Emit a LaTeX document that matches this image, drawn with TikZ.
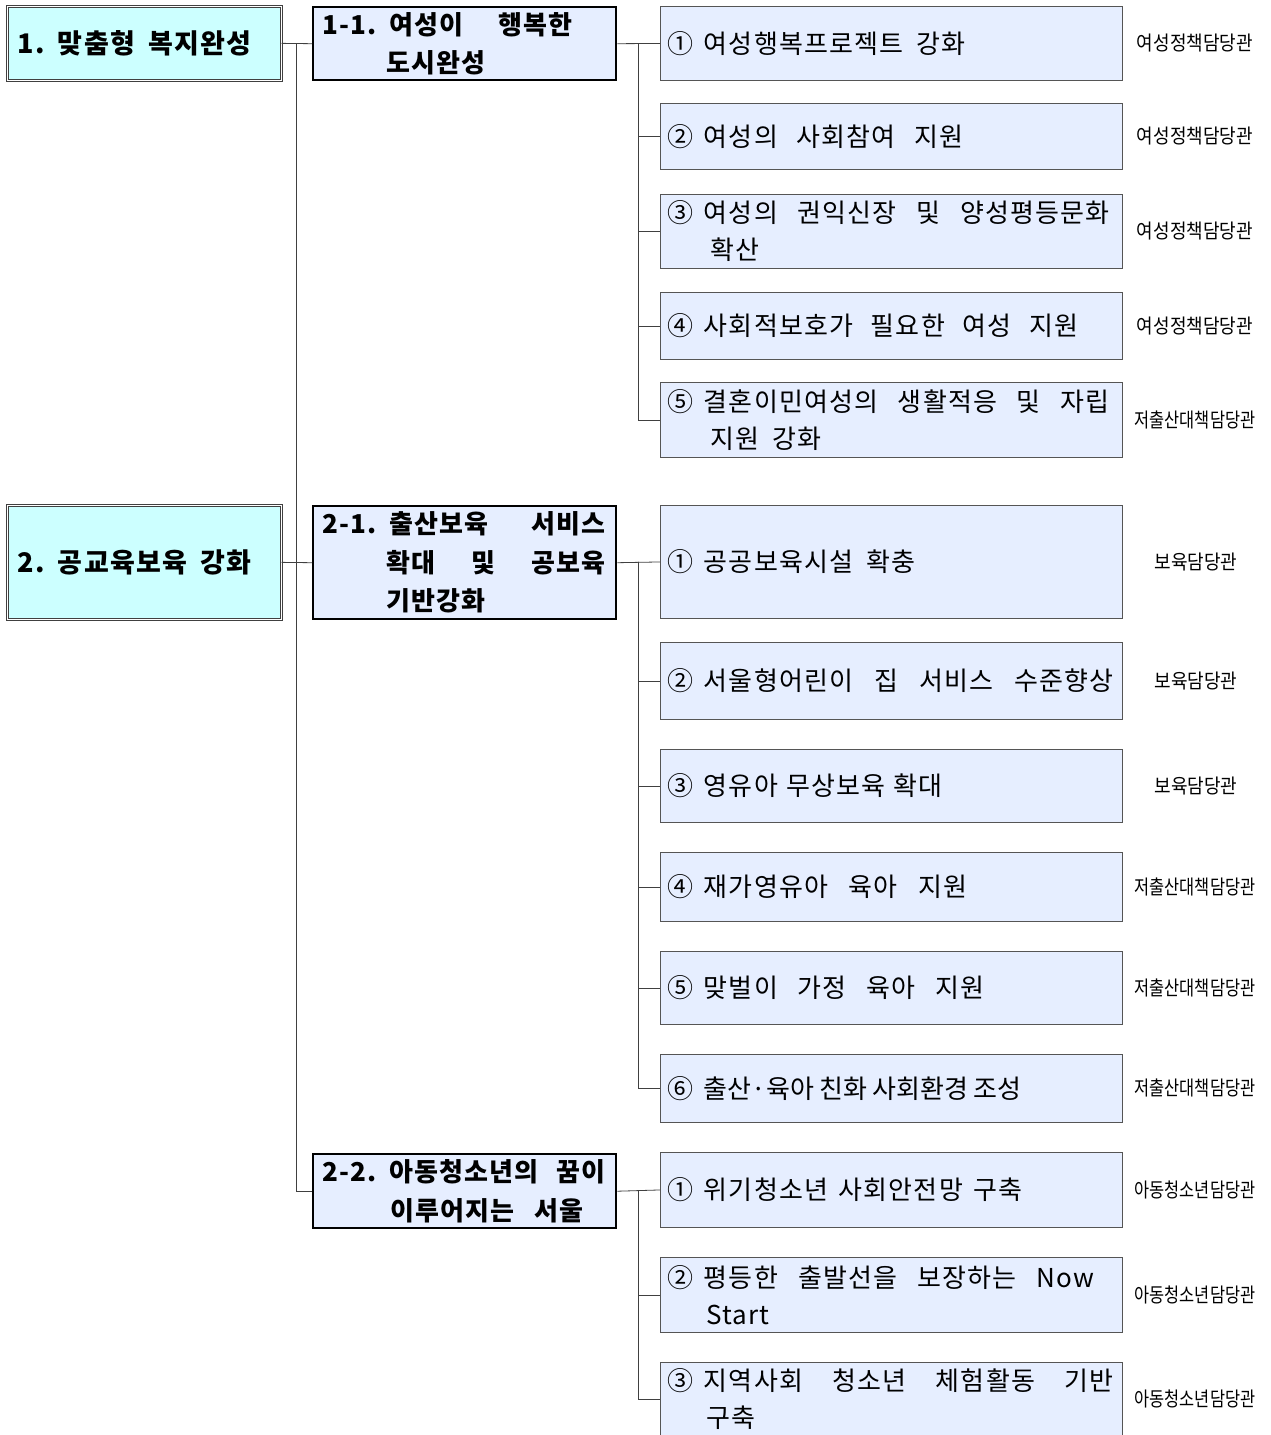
\documentclass[tikz,border=0pt]{standalone}
\usepackage{fontspec}
\usepackage{graphicx}
\usetikzlibrary{calc}
\setmainfont[LetterSpace=4.5]{Noto Sans CJK KR}
\newfontfamily\labfont[FakeStretch=0.9]{Noto Sans CJK KR}
\newfontfamily\labnarrow[FakeStretch=0.82]{Noto Sans CJK KR}
\definecolor{lvone}{HTML}{CCFFFF}
\definecolor{lvtwo}{HTML}{E6EEFF}
\definecolor{linec}{HTML}{404040}
\definecolor{leafc}{HTML}{555555}
\newcommand\leaffont{\fontsize{26}{37}\selectfont}
\newcommand\twofont{\fontsize{26}{38.5}\selectfont\bfseries}
\newcommand\onefont{\fontsize{27}{30}\selectfont\bfseries}
\newcommand\wsp{\spaceskip=.5em plus 1.5em minus .3em\relax}
\newcommand\jl[2]{\makebox[#1][s]{\wsp #2}}
\newcommand\nl[1]{{\wsp #1}}
\newcommand\cd[1]{#1\hspace{.4em}}
\begin{document}
\begin{tikzpicture}[x=1pt,y=-1pt,
  lone/.style={draw=linec, line width=0.7pt, double=white, double distance=1.6pt,
    fill=lvone, anchor=north west, inner xsep=10pt, inner ysep=0pt, align=left,
    text width=254pt, minimum width=274pt, font=\onefont},
  ltwo/.style={draw=black, line width=2.4pt, fill=lvtwo, anchor=north west,
    inner xsep=9pt, inner ysep=0pt, align=left, text width=285pt,
    minimum width=303pt, font=\twofont},
  leaf/.style={draw=leafc, line width=0.9pt, fill=lvtwo, anchor=north west,
    inner xsep=7pt, inner ysep=0pt, align=left, text width=448pt,
    minimum width=462pt, font=\leaffont},
  lab/.style={font=\labfont\fontsize{20}{24}\selectfont, anchor=center, inner sep=0pt},
  labn/.style={font=\labnarrow\fontsize{20}{24}\selectfont, anchor=center, inner sep=0pt},
  conn/.style={draw=linec, line width=0.8pt}]
\path[use as bounding box] (0,0) rectangle (1271,1435);
\clip (0,0) rectangle (1271,1435);

% level 1
\node[lone, minimum height=74pt] (l1) at (7,6) {\jl{234pt}{1. 맞춤형 복지완성}};
\node[lone, minimum height=114pt] (l2) at (7,505) {\nl{2. 공교육보육 강화}};

% level 2
\node[ltwo, minimum height=73pt] (s11) at (312,6)
  {\jl{250pt}{1-1. 여성이 행복한}\\\hspace*{64pt}도시완성};
\node[ltwo, minimum height=113pt] (s21) at (312,505)
  {\jl{283pt}{2-1. 출산보육 서비스}\\\hspace*{64pt}\jl{219pt}{확대 및 공보육}\\\hspace*{64pt}기반강화};
\node[ltwo, minimum height=74pt] (s22) at (312,1153)
  {\jl{283pt}{2-2. 아동청소년의 꿈이}\\\hspace*{68pt}\jl{193pt}{이루어지는 서울}};

% leaves group 1
\node[leaf, minimum height=74pt] (a1) at (660,6) {\jl{298pt}{\cd{①}여성행복프로젝트 강화}};
\node[leaf, minimum height=66pt] (a2) at (660,103) {\jl{296pt}{\cd{②}여성의 사회참여 지원}};
\node[leaf, minimum height=74pt] (a3) at (660,194)
  {\jl{442pt}{\cd{③}여성의 권익신장 및 양성평등문화}\\\hspace*{43pt}확산};
\node[leaf, minimum height=67pt] (a4) at (660,292) {\jl{411pt}{\cd{④}사회적보호가 필요한 여성 지원}};
\node[leaf, minimum height=75pt] (a5) at (660,382)
  {\jl{442pt}{\cd{⑤}결혼이민여성의 생활적응 및 자립}\\\hspace*{43pt}\nl{지원 강화}};

% leaves group 2
\node[leaf, minimum height=113pt] (b1) at (660,505) {\jl{248pt}{\cd{①}공공보육시설 확충}};
\node[leaf, minimum height=77pt] (b2) at (660,642) {\jl{446pt}{\cd{②}서울형어린이 집 서비스 수준향상}};
\node[leaf, minimum height=73pt] (b3) at (660,749) {\jl{275pt}{\cd{③}영유아 무상보육 확대}};
\node[leaf, minimum height=69pt] (b4) at (660,852) {\jl{300pt}{\cd{④}재가영유아 육아 지원}};
\node[leaf, minimum height=73pt] (b5) at (660,951) {\jl{317pt}{\cd{⑤}맞벌이 가정 육아 지원}};
\node[leaf, minimum height=68pt] (b6) at (660,1054)
  {\addfontfeature{LetterSpace=0}\jl{340pt}{\cd{⑥}출산·육아 친화 사회환경 조성}};

% leaves group 3
\node[leaf, minimum height=75pt] (c1) at (660,1152) {\jl{355pt}{\cd{①}위기청소년 사회안전망 구축}};
\node[leaf, minimum height=75pt] (c2) at (660,1257)
  {\jl{427pt}{\cd{②}평등한 출발선을 보장하는 Now}\\\hspace*{39pt}Start};
\node[leaf, minimum height=74pt] (c3) at (660,1362)
  {\jl{446pt}{\cd{③}지역사회 청소년 체험활동 기반}\\\hspace*{39pt}구축};

% labels
\node[lab] (ra1) at ($(a1.east)+(72,0)$) {여성정책담당관};
\node[lab] (ra2) at ($(a2.east)+(72,0)$) {여성정책담당관};
\node[lab] (ra3) at ($(a3.east)+(72,0)$) {여성정책담당관};
\node[lab] (ra4) at ($(a4.east)+(72,0)$) {여성정책담당관};
\node[labn] (ra5) at ($(a5.east)+(72,0)$) {저출산대책담당관};
\node[lab] (rb1) at ($(b1.east)+(73,0)$) {보육담당관};
\node[lab] (rb2) at ($(b2.east)+(73,0)$) {보육담당관};
\node[lab] (rb3) at ($(b3.east)+(73,0)$) {보육담당관};
\node[labn] (rb4) at ($(b4.east)+(72,0)$) {저출산대책담당관};
\node[labn] (rb5) at ($(b5.east)+(72,0)$) {저출산대책담당관};
\node[labn] (rb6) at ($(b6.east)+(72,0)$) {저출산대책담당관};
\node[labn] (rc1) at ($(c1.east)+(72,0)$) {아동청소년담당관};
\node[labn] (rc2) at ($(c2.east)+(72,0)$) {아동청소년담당관};
\node[labn] (rc3) at ($(c3.east)+(72,0)$) {아동청소년담당관};

% connectors
\coordinate (t1) at (296,43);
\draw[conn] (l1.east) -- (s11.west);
\draw[conn] (l2.east) -- (s21.west);
\draw[conn] (t1) |- (s22.west);

\coordinate (g1) at (638,43);
\draw[conn] (s11.east) -- (a1.west);
\foreach \n in {a2,a3,a4,a5} \draw[conn] (g1) |- (\n.west);

\coordinate (g2) at (638,561.5);
\draw[conn] (s21.east) -- (b1.west);
\foreach \n in {b2,b3,b4,b5,b6} \draw[conn] (g2) |- (\n.west);

\coordinate (g3) at (638,1190);
\draw[conn] (s22.east) -- (c1.west);
\foreach \n in {c2,c3} \draw[conn] (g3) |- (\n.west);
\end{tikzpicture}
\end{document}
